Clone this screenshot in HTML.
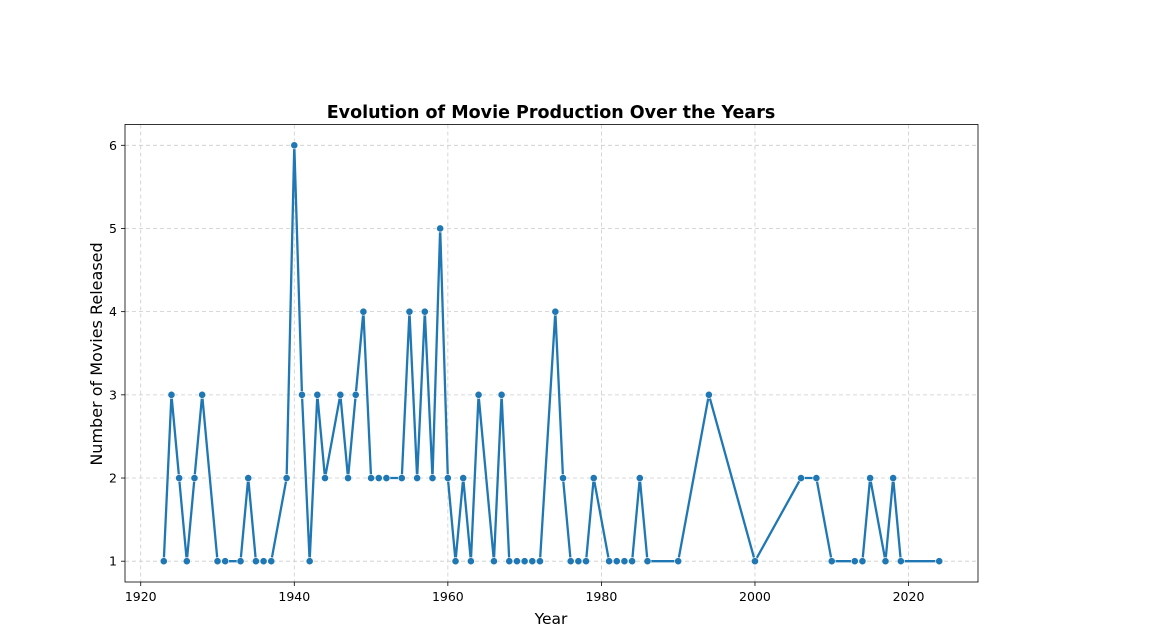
<!DOCTYPE html>
<html><head><meta charset="utf-8"><style>
body{margin:0;background:#fff;}
svg text{font-family:"DejaVu Sans","Liberation Sans",sans-serif;fill:#000;}
</style></head><body>
<svg id="chart" width="1149" height="635">
<text x="551" y="118" text-anchor="middle" font-size="17.5" font-weight="bold">Evolution of Movie Production Over the Years</text>
<g id="grid"></g><g id="axes"></g><g id="series"></g>
<text x="551" y="624" text-anchor="middle" font-size="15.5">Year</text>
<text transform="translate(102,354) rotate(-90)" text-anchor="middle" font-size="16">Number of Movies Released</text>
</svg>
<script>
const years=[1923,1924,1925,1926,1927,1928,1930,1931,1933,1934,1935,1936,1937,1939,1940,1941,1942,1943,1944,1946,1947,1948,1949,1950,1951,1952,1954,1955,1956,1957,1958,1959,1960,1961,1962,1963,1964,1966,1967,1968,1969,1970,1971,1972,1974,1975,1976,1977,1978,1979,1981,1982,1983,1984,1985,1986,1990,1994,2000,2006,2008,2010,2013,2014,2015,2017,2018,2019,2024];
const counts=[1,3,2,1,2,3,1,1,1,2,1,1,1,2,6,3,1,3,2,3,2,3,4,2,2,2,2,4,2,4,2,5,2,1,2,1,3,1,3,1,1,1,1,1,4,2,1,1,1,2,1,1,1,1,2,1,1,3,1,2,2,1,1,1,2,1,2,1,1];
const xTicks=[1920,1940,1960,1980,2000,2020];
const yTicks=[1,2,3,4,5,6];
const L=125,R=978,T=124.5,B=582;
const xmin=1917.95,xmax=2029.05,ymin=0.75,ymax=6.25;
const xs=v=>L+(v-xmin)/(xmax-xmin)*(R-L);
const ys=v=>B-(v-ymin)/(ymax-ymin)*(B-T);
const NS="http://www.w3.org/2000/svg";
function mk(tag,attrs,parent){const e=document.createElementNS(NS,tag);for(const k in attrs)e.setAttribute(k,attrs[k]);parent.appendChild(e);return e;}
const grid=document.getElementById('grid'),axes=document.getElementById('axes'),series=document.getElementById('series');
xTicks.forEach(t=>{const x=xs(t);
 const g=mk('line',{x1:x,x2:x,y1:T,y2:B,stroke:'#ccc','stroke-dasharray':'4,3','stroke-width':0.8},grid);
 
 
 mk('line',{x1:x,x2:x,y1:B,y2:B+4,stroke:'#000','stroke-width':0.8},axes);
 const tx=mk('text',{x:x,y:B+19,'text-anchor':'middle','font-size':12.5},axes);tx.textContent=t;
 
 });
yTicks.forEach(t=>{const y=ys(t);
 const g=mk('line',{x1:L,x2:R,y1:y,y2:y,stroke:'#ccc','stroke-dasharray':'4,3','stroke-width':0.8},grid);
 
 
 mk('line',{x1:L-4,x2:L,y1:y,y2:y,stroke:'#000','stroke-width':0.8},axes);
 const tx=mk('text',{x:L-8,y:y+4.5,'text-anchor':'end','font-size':12.5},axes);tx.textContent=t;
 
 });
const fr=mk('rect',{x:L,y:T,width:R-L,height:B-T,fill:'none',stroke:'#000','stroke-width':0.8},axes);


const pl=mk('polyline',{points:years.map((y,i)=>xs(y)+','+ys(counts[i])).join(' '),fill:'none',stroke:'#1f77b4','stroke-width':2.3,'stroke-linejoin':'round'},series);


years.forEach((y,i)=>{const c=mk('circle',{cx:xs(y),cy:ys(counts[i]),r:3.6,fill:'#1f77b4',stroke:'#fff','stroke-width':0.6},series);
 
 });
</script>
</body></html>
